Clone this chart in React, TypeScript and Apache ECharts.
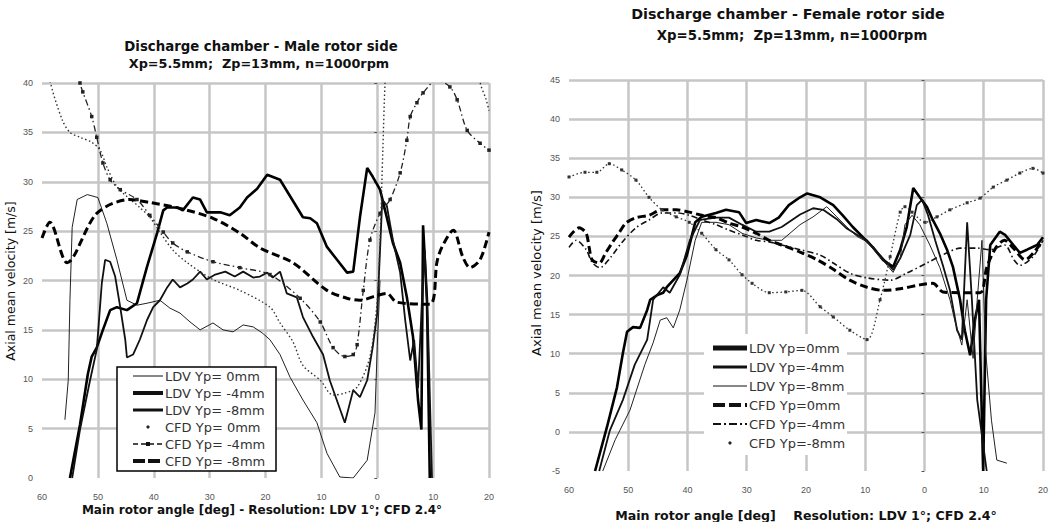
import React, { useEffect, useRef } from "react";
import * as echarts from "echarts";

// ---------- LEFT chart data (Male rotor side) : [angle, velocity] ----------
const leftLdv0: [number, number][] = [[-55.9,5.9],[-55.3,9.9],[-55.0,18.0],[-54.6,25.4],[-53.7,28.2],[-51.9,28.7],[-50.0,28.4],[-48.4,25.8],[-46.6,22.1],[-44.8,18.0],[-43.0,17.5],[-41.2,17.7],[-38.9,18.0],[-37.1,17.2],[-35.3,16.7],[-33.5,15.8],[-31.7,15.0],[-29.4,15.7],[-27.6,15.0],[-25.8,14.8],[-24.0,15.5],[-22.2,15.3],[-20.6,14.7],[-19.2,14.0],[-17.4,12.5],[-15.6,10.2],[-13.3,7.9],[-10.8,5.6],[-9.0,2.5],[-6.7,0.1],[-4.3,0],[-1.8,1.8],[-0.4,6.6],[0,13.3],[0.5,20.0]];
const leftLdvM4: [number, number][] = [[-55.0,0],[-53.2,5.4],[-51.8,10.5],[-51.1,12.3],[-50.2,13.2],[-49.1,15.0],[-47.8,17.0],[-46.6,17.3],[-44.8,17.0],[-43.0,17.7],[-41.2,21.4],[-39.4,24.8],[-38.3,27.1],[-37.6,27.4],[-35.8,27.4],[-34.8,27.1],[-33.0,28.4],[-31.7,28.2],[-30.5,26.9],[-28.1,26.9],[-26.4,26.6],[-24.6,27.4],[-23.3,28.4],[-21.5,29.3],[-19.7,30.7],[-17.4,30.2],[-13.3,26.4],[-12.0,26.3],[-10.8,25.8],[-9.0,23.4],[-7.2,22.1],[-5.4,20.8],[-4.3,20.9],[-3.1,26.4],[-1.8,31.4],[-0.8,30.5],[0.5,29.2],[1.7,26.4],[2.8,23.8],[4.1,21.8],[5.3,18.3],[6.4,14.3],[7.3,7.9],[7.9,4.9],[8.2,25.6],[8.9,18.0],[9.4,0]];
const leftLdvM8: [number, number][] = [[-54.6,0],[-53.2,4.9],[-51.4,9.9],[-50.2,13.0],[-49.3,19.7],[-48.7,22.1],[-47.8,21.9],[-46.9,20.4],[-46.0,17.3],[-45.1,14.0],[-44.8,12.2],[-43.7,12.5],[-42.5,14.0],[-41.2,16.0],[-40.1,17.3],[-38.9,18.0],[-37.6,19.3],[-36.6,20.1],[-35.3,19.3],[-34.0,19.7],[-33.0,20.1],[-31.7,20.9],[-30.5,20.1],[-29.0,20.6],[-27.2,20.9],[-25.5,20.4],[-24.0,20.9],[-22.2,20.3],[-21.0,20.4],[-19.7,20.8],[-18.7,20.3],[-17.4,20.9],[-16.2,18.7],[-14.4,18.3],[-13.3,16.3],[-11.5,14.3],[-9.7,12.5],[-8.5,9.9],[-5.8,5.6],[-4.3,8.9],[-3.1,8.2],[-1.8,9.9],[-0.8,13.3],[0,16.7],[0.9,28.2],[1.7,27.6],[2.8,24.1],[4.1,20.8],[5.0,16.0],[5.9,11.9],[6.6,14.0],[7.3,9.1],[8.0,18.0],[8.5,23.1],[9.1,15.0],[9.8,0]];
const leftCfd0: [number, number][] = [[-59.0,43],[-58.6,40.3],[-56.4,36.3],[-55.0,35.0],[-53.2,34.5],[-51.1,34.0],[-49.6,33.2],[-48.4,31.5],[-46.6,29.5],[-44.8,28.5],[-42.5,27.4],[-40.7,26.4],[-38.9,24.9],[-36.6,23.1],[-34.0,21.8],[-29.4,20.1],[-24.6,19.0],[-19.2,17.3],[-17.4,15.7],[-15.1,13.8],[-13.3,11.4],[-10.2,9.9],[-7.9,8.4],[-5.8,8.6],[-3.6,9.2],[-1.3,12.3],[0,18.0],[0.5,24.1],[1.0,33.2],[1.4,40],[2.0,45],[17.5,45],[18.4,40.1],[19.5,38.3],[20,37.2]];
const leftCfdM4: [number, number][] = [[-53.6,42.3],[-53.2,40.0],[-52.7,39.1],[-51.1,36.6],[-50.2,34.5],[-49.1,31.9],[-47.8,30.2],[-46.0,29.2],[-43.0,28.2],[-40.7,26.6],[-38.3,24.9],[-36.6,23.8],[-34.0,22.9],[-29.4,21.9],[-24.6,21.3],[-19.2,20.6],[-13.8,18.2],[-10.2,15.8],[-7.9,13.2],[-5.8,12.3],[-4.3,12.5],[-3.6,13.5],[-2.5,19.0],[-1.3,24.1],[0.5,26.8],[2.3,28.2],[4.1,30.9],[5.3,34.2],[5.9,36.6],[7.1,38.0],[8.2,39.0],[10.7,40.3],[13.0,39.6],[14.3,38.3],[16.1,35.2],[18.4,33.9],[20,33.2]];
const leftCfdM8: [number, number][] = [[-60,24.3],[-58.6,25.9],[-55.5,21.8],[-50.2,26.8],[-44.3,28.2],[-40.7,27.9],[-35.3,27.3],[-29.4,26.3],[-24.6,24.8],[-21.0,23.3],[-15.1,21.8],[-9.0,19.0],[-5.4,18.2],[-3.1,18.0],[0,18.5],[1.7,18.7],[3.5,17.8],[9.4,17.6],[10.7,21.9],[11.6,23.4],[13.6,25.1],[15.3,22.4],[16.6,21.3],[18.4,22.1],[20,24.9]];

// ---------- RIGHT chart data (Female rotor side) ----------
const rightLdv0: [number, number][] = [[-55.6,-5.0],[-53.6,0.6],[-51.9,5.7],[-50.9,10.1],[-50.2,12.8],[-49.2,13.4],[-48.0,13.3],[-46.8,15.6],[-46.3,16.9],[-45.1,17.5],[-44.1,17.8],[-43.5,18.5],[-42.4,19.4],[-41.3,20.3],[-40.1,22.6],[-38.7,26.8],[-37.6,27.5],[-35.2,28.0],[-33.5,28.4],[-31.3,28.1],[-30.1,26.7],[-28.4,27.1],[-26.2,26.7],[-24.6,27.4],[-22.9,29.0],[-21.0,30.0],[-19.8,30.5],[-17.6,30.0],[-15.4,29.0],[-13.8,27.7],[-12.1,26.2],[-10.4,24.9],[-8.7,23.6],[-7.0,22.0],[-5.3,21.1],[-4.1,23.3],[-3.0,26.2],[-1.9,31.2],[-0.8,30.0],[0.4,28.8],[1.4,27.1],[2.6,25.4],[3.8,23.3],[4.8,21.1],[6.0,16.9],[6.8,13.0],[7.7,9.8],[8.5,14.3],[9.2,16.9],[9.9,-5.0],[10.4,16.9],[11.1,23.9],[12.7,25.6],[13.6,25.2],[15.0,23.9],[16.1,22.9],[17.3,23.3],[19.0,23.9],[20,24.9]];
const rightLdvM4: [number, number][] = [[-54.9,-5.0],[-53.1,0.2],[-50.9,4.1],[-48.9,8.6],[-46.8,11.8],[-45.8,16.9],[-44.1,18.5],[-43.0,17.8],[-41.3,20.1],[-39.6,24.5],[-37.9,27.1],[-35.2,27.4],[-33.0,27.4],[-30.8,26.5],[-28.4,25.6],[-26.2,25.6],[-24.1,26.2],[-21.0,27.8],[-18.8,28.6],[-17.1,28.4],[-14.8,27.2],[-13.1,26.0],[-11.4,25.2],[-9.7,24.5],[-8.0,23.0],[-6.3,21.6],[-5.3,20.7],[-4.1,22.2],[-2.4,25.2],[-1.3,29.0],[-0.4,29.7],[0.6,27.7],[1.8,24.5],[3.1,21.3],[4.3,18.1],[5.5,13.0],[6.3,11.8],[7.2,26.8],[8.0,16.9],[8.9,4.1],[10.5,-5.0]];
const rightLdvM8: [number, number][] = [[-54.3,-5.0],[-52.2,-1.0],[-49.7,2.8],[-47.2,8.6],[-45.8,11.4],[-44.6,14.3],[-43.5,14.6],[-42.4,13.3],[-41.3,15.6],[-40.1,19.4],[-38.7,24.5],[-37.6,26.8],[-35.2,26.8],[-33.0,26.5],[-30.8,25.4],[-28.4,24.8],[-26.2,24.5],[-24.1,24.5],[-21.0,26.5],[-18.8,27.5],[-16.5,28.8],[-14.8,27.5],[-13.1,26.2],[-11.4,25.0],[-9.7,24.3],[-8.0,22.8],[-6.3,21.3],[-5.3,20.4],[-4.1,22.2],[-3.3,26.5],[-2.1,27.7],[-0.8,26.5],[0.9,23.9],[2.6,21.0],[4.3,16.9],[5.1,14.3],[6.3,11.1],[7.2,16.9],[8.2,9.4],[8.9,16.9],[9.7,24.5],[10.3,10.5],[11.3,1.5],[12.2,-3.6],[13.9,-4.0]];
const rightCfd0: [number, number][] = [[-60,24.9],[-58.3,26.1],[-57.1,25.4],[-56.6,23.6],[-56.1,22.0],[-54.9,21.6],[-53.8,22.9],[-52.7,24.2],[-51.6,25.4],[-50.4,26.7],[-48.7,27.4],[-46.5,27.7],[-44.3,28.4],[-41.9,28.4],[-39.7,28.1],[-37.6,27.7],[-35.2,27.4],[-33.0,26.7],[-30.8,26.2],[-28.4,25.4],[-26.2,24.5],[-24.1,23.9],[-21.0,23.0],[-18.1,22.0],[-15.4,20.8],[-12.6,19.4],[-9.7,18.5],[-7.0,18.1],[-4.1,18.3],[-0.8,18.8],[1.4,19.0],[3.1,17.9],[6.0,17.8],[9.4,17.8],[10.5,21.0],[12.0,23.5],[13.5,24.5],[15.0,23.5],[17.0,22.0],[18.5,23.0],[20,24.5]];
const rightCfdM4: [number, number][] = [[-60,23.6],[-58.8,24.5],[-57.1,23.3],[-56.1,21.7],[-54.8,21.0],[-53.1,22.2],[-51.1,24.2],[-48.7,26.1],[-46.5,27.1],[-44.3,28.0],[-41.9,28.0],[-39.7,27.7],[-37.6,27.1],[-35.2,26.5],[-33.0,25.8],[-30.8,25.2],[-28.4,24.5],[-26.2,24.3],[-24.1,23.9],[-21.0,23.3],[-17.6,22.6],[-15.4,21.6],[-12.6,20.3],[-9.7,19.7],[-5.8,19.4],[-3.0,20.3],[0.4,21.6],[3.8,22.9],[6.0,23.5],[8.9,23.5],[11.1,23.3],[13.5,23.9],[15.1,22.0],[16.1,21.3],[18.3,22.4],[20,24.5]];
const rightCfdM8: [number, number][] = [[-60,32.6],[-57.3,33.2],[-55.3,33.2],[-53.2,34.3],[-51.1,33.5],[-48.7,32.2],[-46.5,30.0],[-44.3,28.4],[-41.9,27.5],[-39.7,26.8],[-37.6,25.4],[-35.2,23.3],[-33.0,22.0],[-30.8,20.1],[-29.1,19.0],[-26.2,17.8],[-23.4,17.9],[-20.7,18.1],[-17.6,16.0],[-15.4,14.7],[-12.6,13.0],[-9.7,11.8],[-7.5,16.9],[-5.8,22.4],[-4.1,28.1],[-3.3,28.8],[-2.1,28.1],[0.1,26.8],[2.1,27.5],[4.3,28.4],[7.2,29.3],[9.4,29.9],[11.6,31.3],[13.9,32.2],[16.1,33.1],[18.3,33.7],[20,33.1]];

const leftNames = ["LDV Yp= 0mm", "LDV Yp= -4mm", "LDV Yp= -8mm", "CFD Yp= 0mm", "CFD Yp= -4mm", "CFD Yp= -8mm"];
const rightNames = ["LDV Yp=0mm", "LDV Yp=-4mm", "LDV Yp=-8mm", "CFD Yp=0mm", "CFD Yp=-4mm", "CFD Yp=-8mm"];

const GRID_COLOR = "#c6c6c6";
const TICK_COLOR = "#555";
const NONE = "rgba(0,0,0,0)";

function gridColors(n: number) {
  const a = [NONE];
  for (let i = 1; i < n; i++) a.push(GRID_COLOR);
  return a;
}

function xAx(gridIndex: number) {
  return {
    type: "value", gridIndex, min: -60, max: 20, interval: 10,
    axisLine: { show: false }, axisTick: { show: false },
    axisLabel: { formatter: (v: number) => String(Math.abs(v)), fontSize: 9, color: TICK_COLOR, margin: 14, fontFamily: "Liberation Sans" },
    splitLine: { show: true, lineStyle: { color: gridColors(9), width: 2.5 } },
  };
}
function yAx(gridIndex: number, min: number, max: number) {
  return {
    type: "value", gridIndex, min, max, interval: 5,
    axisLine: { show: false },
    axisTick: { show: true, length: 3, lineStyle: { color: TICK_COLOR } },
    axisLabel: { fontSize: 9, color: TICK_COLOR, margin: 9, fontFamily: "Liberation Sans" },
    splitLine: { show: true, lineStyle: { color: gridColors((max - min) / 5 + 1), width: 2.5 } },
  };
}
function ser(name: string, data: [number, number][], idx: number, width: number, type: any, color: string, extra: any = {}) {
  return {
    type: "line", name, data, xAxisIndex: idx, yAxisIndex: idx, symbol: "none",
    lineStyle: { width, type, color }, itemStyle: { color }, clip: true, ...extra,
  };
}

const DASH = [8, 4];
const DASHDOT = [6, 3, 1.5, 3];
const DOT = [1.5, 2.5];

const series = [
  ser(leftNames[0], leftLdv0, 0, 1, "solid", "#222"),
  ser(leftNames[1], leftLdvM4, 0, 2.6, "solid", "#000"),
  ser(leftNames[2], leftLdvM8, 0, 1.8, "solid", "#111"),
  ser(leftNames[3], leftCfd0, 0, 1.4, DOT, "#333", { smooth: 0.3 }),
  ser(leftNames[4], leftCfdM4, 0, 1.3, DASHDOT, "#222", { smooth: 0.3, symbol: "rect", symbolSize: 3.5, showSymbol: true }),
  ser(leftNames[5], leftCfdM8, 0, 3, DASH, "#000", { smooth: 0.3 }),
  ser(rightNames[0], rightLdv0, 1, 2.6, "solid", "#000"),
  ser(rightNames[1], rightLdvM4, 1, 1.8, "solid", "#111"),
  ser(rightNames[2], rightLdvM8, 1, 1, "solid", "#222"),
  ser(rightNames[3], rightCfd0, 1, 3, DASH, "#000", { smooth: 0.3 }),
  ser(rightNames[4], rightCfdM4, 1, 1.6, DASHDOT, "#111", { smooth: 0.3 }),
  ser(rightNames[5], rightCfdM8, 1, 1.3, DOT, "#333", { smooth: 0.3, symbol: "rect", symbolSize: 3, showSymbol: true }),
];

function txt(text: string, x: number, y: number, size: number, weight: string, extra: any = {}, align = "center", fill = "#111") {
  return {
    type: "text", x, y, silent: true, z: 120, ...extra,
    style: { text, fill, fontSize: size, fontWeight: weight, fontFamily: "DejaVu Sans", align, verticalAlign: "middle" },
  };
}
function seg(x1: number, x2: number, y: number, width: number, dash: any, color = "#111") {
  return { type: "line", silent: true, z: 120, shape: { x1, y1: y, x2, y2: y }, style: { stroke: color, lineWidth: width, lineDash: dash } };
}
function dot(cx: number, cy: number, r: number) {
  return { type: "circle", silent: true, z: 120, shape: { cx, cy, r }, style: { fill: "#222" } };
}

// legend icon styles (index matches the names arrays)
const leftIcons = [
  { w: 1, dash: null }, { w: 4, dash: null }, { w: 3, dash: null },
  { dotOnly: true }, { w: 1.6, dash: [5, 3], mark: true }, { w: 4, dash: [12, 3] },
];
const rightIcons = [
  { w: 5, dash: null }, { w: 3, dash: null }, { w: 1, dash: null },
  { w: 4, dash: [12, 4] }, { w: 2, dash: [8, 3, 2, 3] }, { dotOnly: true },
];

function legendGraphics(names: string[], icons: any[], x1: number, x2: number, tx: number, y0: number, pitch: number, size: number) {
  const out: any[] = [];
  names.forEach((n, i) => {
    const y = y0 + i * pitch;
    const ic = icons[i];
    if (ic.dotOnly) out.push(dot((x1 + x2) / 2, y, 1.6));
    else {
      out.push(seg(x1, x2, y, ic.w, ic.dash));
      if (ic.mark) out.push({ type: "rect", silent: true, z: 121, shape: { x: (x1 + x2) / 2 - 2, y: y - 2, width: 4, height: 4 }, style: { fill: "#111" } });
    }
    out.push(txt(n, tx, y, size, "normal", {}, "left", "#333"));
  });
  return out;
}

export default function App() {
  const ref = useRef<HTMLDivElement>(null);
  useEffect(() => {
    const chart = echarts.init(ref.current!, null, { renderer: "svg" });
    chart.setOption({
      animation: false,
      backgroundColor: "#fff",
      grid: [
        { left: 42, top: 83, width: 447, height: 395 },
        { left: 569, top: 80, width: 474, height: 391 },
      ],
      xAxis: [xAx(0), xAx(1)],
      yAxis: [yAx(0, 0, 40), yAx(1, -5, 45)],
      graphic: [
        txt("Discharge chamber - Male rotor side", 261, 46, 13.3, "bold"),
        txt("Xp=5.5mm;  Zp=13mm, n=1000rpm", 259, 63, 12.8, "bold"),
        txt("Discharge chamber - Female rotor side", 788, 14, 14.3, "bold"),
        txt("Xp=5.5mm;  Zp=13mm, n=1000rpm", 792, 35, 13.3, "bold"),
        txt("Main rotor angle [deg] - Resolution: LDV 1°; CFD 2.4°", 262, 510, 12, "bold"),
        txt("Main rotor angle [deg]    Resolution: LDV 1°; CFD 2.4°", 806, 515, 12.6, "bold"),
        txt("Axial mean velocity [m/s]", 10, 281, 12.5, "normal", { rotation: Math.PI / 2 }),
        txt("Axial mean velocity [m/s]", 536, 273, 13, "normal", { rotation: Math.PI / 2 }),
        { type: "rect", silent: true, z: 110, shape: { x: 117, y: 367, width: 159, height: 104 }, style: { fill: "#fff", stroke: "#000", lineWidth: 1.5 } },
        ...legendGraphics(leftNames, leftIcons, 133, 163, 165, 376, 17, 13),
        { type: "rect", silent: true, z: 110, shape: { x: 704, y: 334, width: 143, height: 121 }, style: { fill: "#fff" } },
        ...legendGraphics(rightNames, rightIcons, 713, 747, 749, 348, 19, 13),
      ],
      series,
    });
    return () => chart.dispose();
  }, []);
  return <div ref={ref} style={{ position: "absolute", left: 0, top: 0, width: 1051, height: 522, background: "#fff" }} />;
}
